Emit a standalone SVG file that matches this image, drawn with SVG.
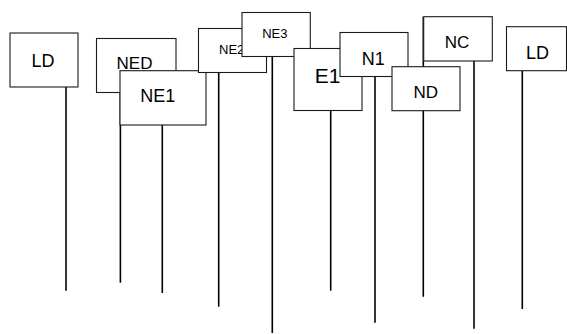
<svg xmlns="http://www.w3.org/2000/svg" width="567" height="334" viewBox="0 0 567 334">
<style>
.b{fill:#fff;stroke:#1a1a1a;stroke-width:1.1}
.t{font-family:"Liberation Sans",Arial,sans-serif;fill:#000;text-anchor:middle}
.l{stroke:#000;stroke-width:1.6;fill:none}
</style>
<rect width="567" height="334" fill="#fff"/>
<g id="connectors">
<line class="l" x1="66" y1="87" x2="66" y2="290.7"/>
<line class="l" x1="120.4" y1="92.5" x2="120.4" y2="282.7"/>
<line class="l" x1="162.3" y1="125" x2="162.3" y2="293"/>
<line class="l" x1="218.7" y1="72.5" x2="218.7" y2="306.7"/>
<line class="l" x1="272.3" y1="56.5" x2="272.3" y2="333"/>
<line class="l" x1="330.7" y1="110.5" x2="330.7" y2="290.7"/>
<line class="l" x1="375" y1="76.5" x2="375" y2="322.7"/>
<line class="l" x1="423.3" y1="16.7" x2="423.3" y2="296.7"/>
<line class="l" x1="474" y1="61" x2="474" y2="328.7"/>
<line class="l" x1="522.3" y1="70.7" x2="522.3" y2="309"/>
</g>
<g id="LD1"><rect class="b" x="10" y="33" width="68" height="54"/><text class="t" x="43" y="66.5" font-size="18">LD</text></g>
<g id="NED"><rect class="b" x="96.5" y="38.5" width="79.5" height="54"/><text class="t" x="134.5" y="69" font-size="17">NED</text></g>
<g id="NE1"><rect class="b" x="120" y="70.7" width="86" height="54.3"/><text class="t" x="157.8" y="101.5" font-size="18">NE1</text></g>
<g id="NE2"><rect class="b" x="198.5" y="28.5" width="68" height="44"/><text class="t" x="219" y="54.3" font-size="13" text-anchor="start" style="text-anchor:start">NE2</text></g>
<g id="NE3"><rect class="b" x="242" y="12.5" width="68.3" height="44"/><text class="t" x="274.8" y="37.7" font-size="13">NE3</text></g>
<g id="E1"><rect class="b" x="294" y="48.5" width="68" height="62"/><text class="t" x="327.5" y="83.3" font-size="21">E1</text></g>
<g id="N1"><rect class="b" x="340" y="32.5" width="68" height="44"/><text class="t" x="373.3" y="65" font-size="18">N1</text></g>
<g id="ND"><rect class="b" x="392" y="66.7" width="68" height="44"/><text class="t" x="425.8" y="97.7" font-size="17">ND</text></g>
<g id="NC"><rect class="b" x="423.7" y="16.7" width="68.6" height="44.3"/><text class="t" x="457" y="47.5" font-size="17">NC</text></g>
<g id="LD2"><rect class="b" x="506.5" y="26.7" width="60" height="44"/><text class="t" x="537.5" y="59.3" font-size="18">LD</text></g>
</svg>
